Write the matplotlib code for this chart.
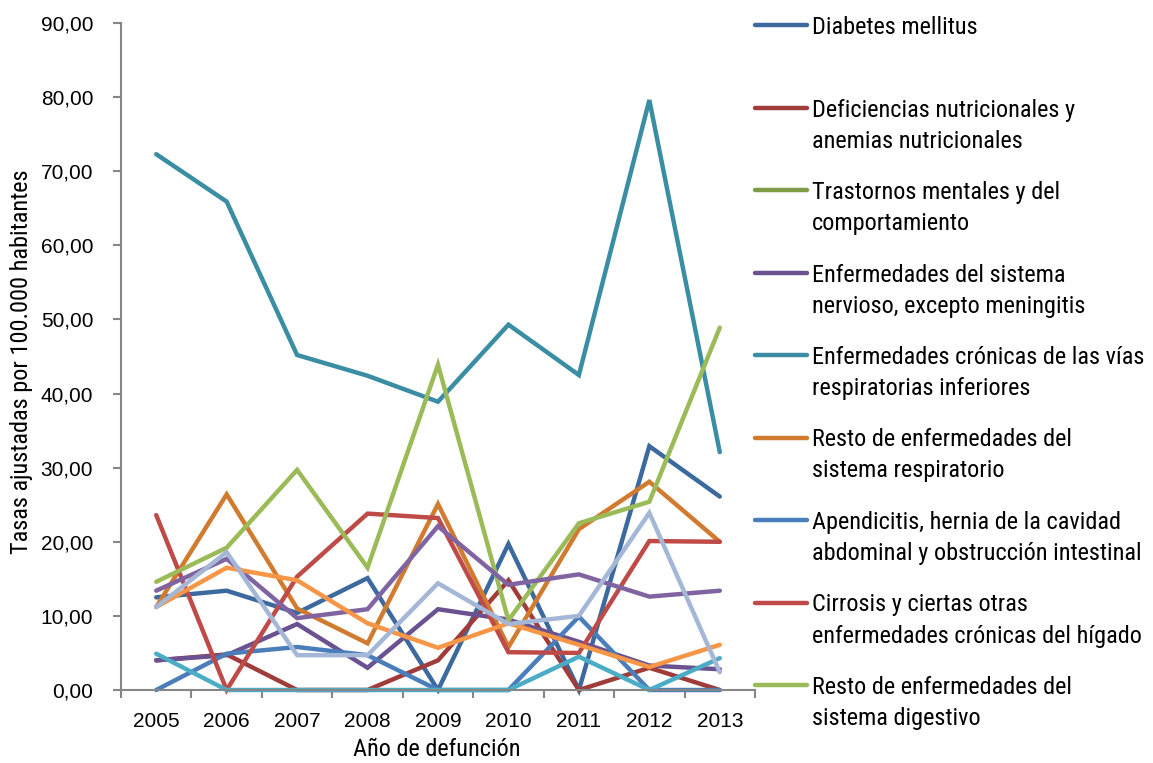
import matplotlib
matplotlib.use("Agg")
import matplotlib.pyplot as plt
from matplotlib.lines import Line2D
from matplotlib.ticker import FuncFormatter, FixedLocator
import numpy as np

years = ["2005", "2006", "2007", "2008", "2009", "2010", "2011", "2012", "2013"]

nan = float("nan")
diabetes = [12.5, 13.4, 10.4, 15.1, 0.0, 19.7, 0.0, 32.9, 26.1]
deficiencias = [4.0, 4.8, 0.0, 0.0, 4.0, 14.8, 0.0, 3.0, 0.0]
trastornos = [nan] * 9  # no deaths recorded in the period
sistema_nervioso = [4.0, 4.7, 8.9, 3.0, 10.9, 9.5, 6.5, 3.3, 2.8]
cronicas_resp = [72.3, 65.9, 45.2, 42.4, 38.9, 49.3, 42.5, 79.6, 32.1]
resto_resp = [11.2, 26.4, 11.0, 6.3, 25.1, 5.8, 21.7, 28.1, 20.0]
apendicitis = [0.0, 4.9, 5.8, 4.7, 0.0, 0.0, 9.9, 0.0, 0.0]
cirrosis = [23.6, 0.0, 15.3, 23.8, 23.2, 5.1, 5.0, 20.1, 20.0]
resto_digestivo = [14.6, 19.2, 29.7, 16.5, 43.9, 9.4, 22.5, 25.4, 48.9]
serie_10 = [13.4, 17.7, 9.7, 10.9, 22.1, 14.2, 15.6, 12.6, 13.4]
serie_11 = [4.9, 0.0, 0.0, 0.0, 0.0, 0.0, 4.5, 0.0, 4.3]
serie_12 = [11.2, 16.5, 14.8, 9.0, 5.7, 9.0, 6.1, 3.1, 6.1]
serie_13 = [11.2, 18.6, 4.7, 4.7, 14.4, 8.9, 10.0, 23.9, 2.4]

legend_labels = [
    "Diabetes mellitus",
    "Deficiencias nutricionales y\nanemias nutricionales",
    "Trastornos mentales y del\ncomportamiento",
    "Enfermedades del sistema\nnervioso, excepto meningitis",
    "Enfermedades crónicas de las vías\nrespiratorias inferiores",
    "Resto de enfermedades del\nsistema respiratorio",
    "Apendicitis, hernia de la cavidad\nabdominal y obstrucción intestinal",
    "Cirrosis y ciertas otras\nenfermedades crónicas del hígado",
    "Resto de enfermedades del\nsistema digestivo",
]

series = [diabetes, deficiencias, trastornos, sistema_nervioso, cronicas_resp,
          resto_resp, apendicitis, cirrosis, resto_digestivo,
          serie_10, serie_11, serie_12, serie_13]
colors = ["#3D6A9E", "#A03C3A", "#7E9C45", "#6A5190", "#3A8DA3", "#D17B30",
          "#4A7EBB", "#BE4B48", "#9BBB59", "#8064A2", "#4BACC6", "#F79646",
          "#A5B7D7"]

narrow = ["Liberation Sans Narrow", "Roboto Condensed", "Liberation Sans", "DejaVu Sans"]
plt.rcParams["font.family"] = ["Liberation Sans", "DejaVu Sans"]

W, H = 1153, 763
fig = plt.figure(figsize=(W / 100, H / 100), dpi=100)
ax = fig.add_axes([121 / W, 1 - 690 / H, (755 - 121) / W, (690 - 23) / H])

x = np.arange(len(years))
for vals, col in zip(series, colors):
    ax.plot(x, vals, color=col, lw=3.2, solid_capstyle="round",
            solid_joinstyle="miter", clip_on=False)

ax.set_xlim(-0.5, len(years) - 0.5)
ax.set_ylim(0, 90)

axis_gray = "#868686"
for side in ["top", "right"]:
    ax.spines[side].set_visible(False)
for side in ["left", "bottom"]:
    ax.spines[side].set_color(axis_gray)
    ax.spines[side].set_linewidth(1.5)

ax.set_yticks(np.arange(0, 91, 10))
ax.yaxis.set_major_formatter(FuncFormatter(lambda v, p: f"{v:.2f}".replace(".", ",")))
ax.tick_params(axis="y", direction="out", length=6, width=1.5, color=axis_gray,
               pad=14, labelsize=15, labelcolor="black")

ax.set_xticks(x)
ax.set_xticklabels(years)
ax.xaxis.set_minor_locator(FixedLocator(np.arange(-0.5, len(years), 1.0)))
ax.tick_params(axis="x", which="major", length=0, pad=16, labelsize=15)
ax.tick_params(axis="x", which="minor", direction="out", length=6, width=1.5,
               color=axis_gray)

fig.text(22 / W, 1 - 362 / H, "Tasas ajustadas por 100.000 habitantes",
         rotation=90, ha="center", va="center", fontsize=17.5, family=narrow)
fig.text(437 / W, 1 - 750 / H, "Año de defunción",
         ha="center", va="center", fontsize=17.5, family=narrow)

# legend drawn entry by entry: handle aligned with the first text line
y0, step, pitch = 25, 82.5, 31
for i, (lab, col) in enumerate(zip(legend_labels, colors[:9])):
    yc = y0 + i * step
    yf = 1 - yc / H
    fig.add_artist(Line2D([755 / W, 807 / W], [yf, yf], color=col, lw=3.2,
                          solid_capstyle="round", transform=fig.transFigure))
    for j, line in enumerate(lab.split("\n")):
        fig.text(812 / W, 1 - (yc + 9 + j * pitch) / H, line, ha="left",
                 va="baseline", fontsize=17.5, family=narrow)

fig.savefig("out.png", dpi=100)
